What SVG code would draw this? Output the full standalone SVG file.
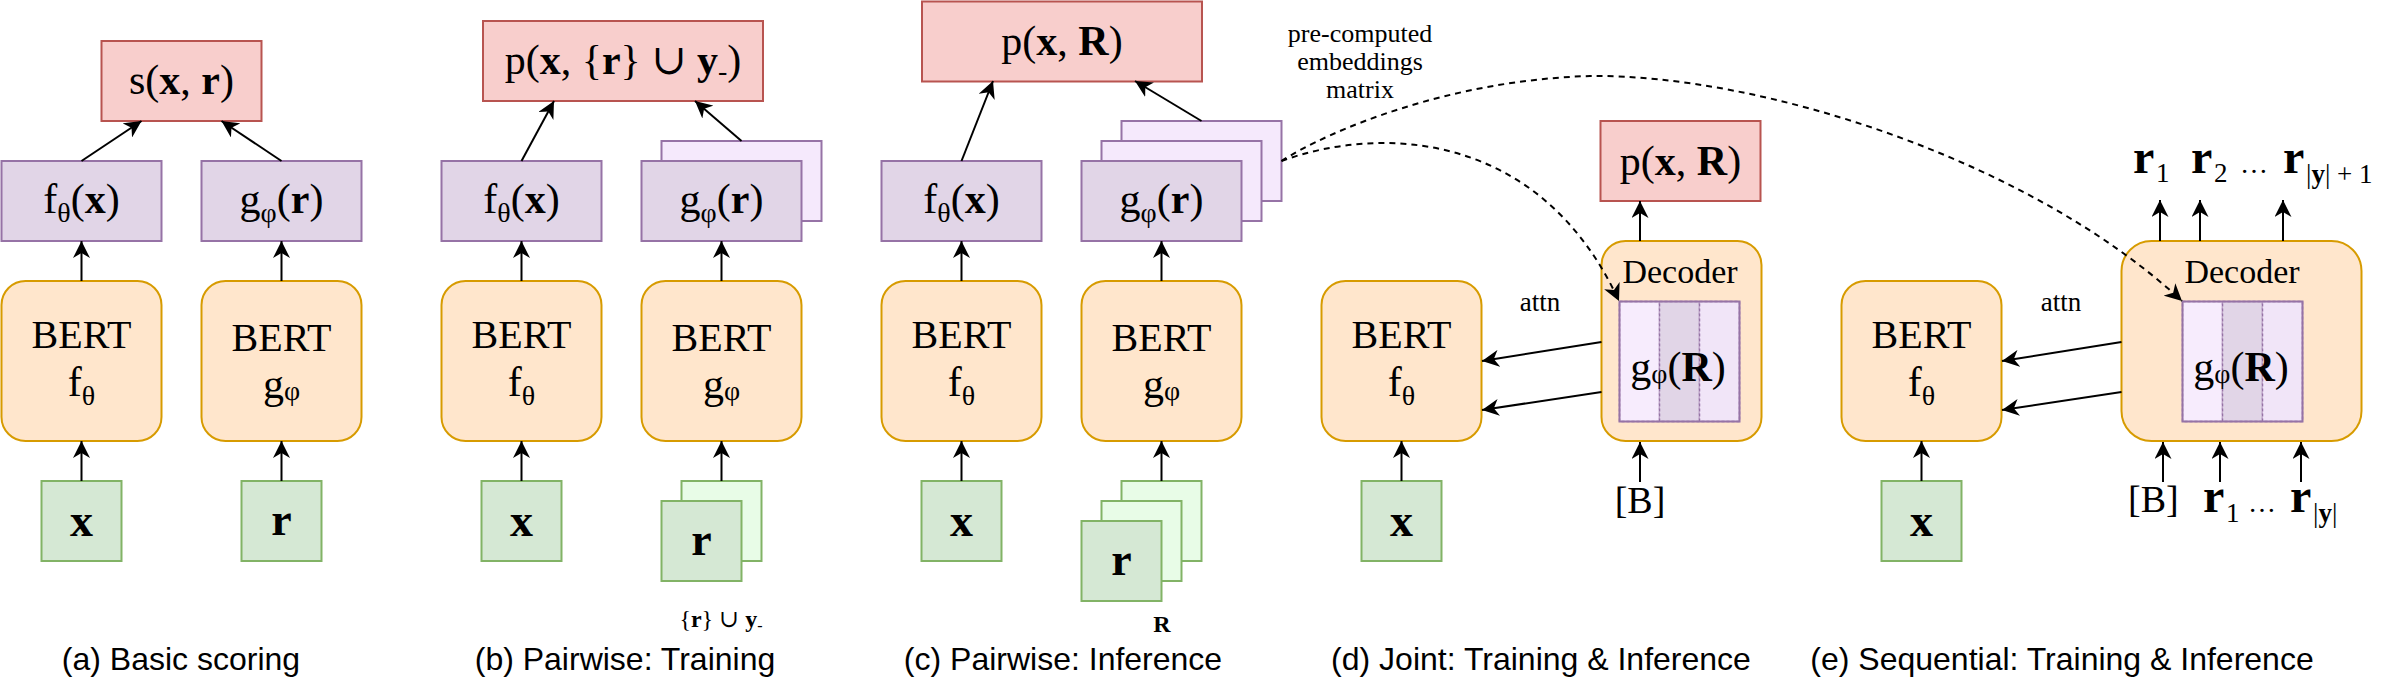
<svg xmlns="http://www.w3.org/2000/svg" width="2404" height="682" viewBox="0 0 2404 682">
<defs>
<style>
.red{fill:#f8cecc;stroke:#b85450;stroke-width:2}
.pur{fill:#e1d5e7;stroke:#9673a6;stroke-width:2}
.purl{fill:#f5e9fc;stroke:#9673a6;stroke-width:2}
.org{fill:#ffe6cc;stroke:#d79b00;stroke-width:2}
.grn{fill:#d5e8d4;stroke:#82b366;stroke-width:2}
.grnl{fill:#e8fce7;stroke:#82b366;stroke-width:2}
.col{stroke:#9673a6;stroke-width:1.5;stroke-dasharray:3 2}
text{font-family:"Liberation Serif","DejaVu Serif",serif;fill:#000}
.m{font-size:42px;text-anchor:middle}
.bt{font-size:40px;text-anchor:middle}
.dec{font-size:34px;text-anchor:middle}
.in{font-size:46px;font-weight:bold;text-anchor:middle}
.b{font-weight:bold}
.sub{font-size:28px}
.lbl{font-size:26px;text-anchor:middle}
.rv{font-size:48px;font-weight:bold}
.rs{font-size:27px}
.dots{font-size:28px}
.cap{font-family:"Liberation Sans",Arial,sans-serif;font-size:32px;text-anchor:middle}
.e{stroke:#000;stroke-width:2;fill:none;marker-end:url(#arr)}
.d{stroke:#000;stroke-width:2;fill:none;stroke-dasharray:6 5;marker-end:url(#arr)}
</style>
<marker id="arr" viewBox="0 0 17 17" refX="17" refY="8.5" markerWidth="17" markerHeight="17" markerUnits="userSpaceOnUse" orient="auto"><path d="M0,0 L17,8.5 L0,17 L5,8.5 Z" fill="#000"/></marker>
</defs>
<rect width="2404" height="682" fill="#fff"/>

<!-- Panel (a) -->
<g id="a-score"><rect class="red" x="101.5" y="41" width="160" height="80"/><text class="m" x="181.5" y="94">s(<tspan class="b">x</tspan>, <tspan class="b">r</tspan>)</text></g>
<g id="a-fx"><rect class="pur" x="1.5" y="161" width="160" height="80"/><text class="m" x="81.5" y="213">f<tspan class="sub" dy="9">θ</tspan><tspan dy="-9">(</tspan><tspan class="b">x</tspan>)</text></g>
<g id="a-gr"><rect class="pur" x="201.5" y="161" width="160" height="80"/><text class="m" x="281.5" y="213">g<tspan class="sub" dy="9">φ</tspan><tspan dy="-9">(</tspan><tspan class="b">r</tspan>)</text></g>
<g id="a-bert-f"><rect class="org" x="1.5" y="281" width="160" height="160" rx="24"/><text class="bt" x="81.5" y="348">BERT</text><text class="m" x="81.5" y="396">f<tspan class="sub" dy="9">θ</tspan></text></g>
<g id="a-bert-g"><rect class="org" x="201.5" y="281" width="160" height="160" rx="24"/><text class="bt" x="281.5" y="351">BERT</text><text class="m" x="281.5" y="398">g<tspan class="sub" dy="2">φ</tspan></text></g>
<g id="a-x"><rect class="grn" x="41.5" y="481" width="80" height="80"/><text class="in" x="81.5" y="536">x</text></g>
<g id="a-r"><rect class="grn" x="241.5" y="481" width="80" height="80"/><text class="in" x="281.5" y="535">r</text></g>
<text class="cap" x="181" y="670">(a) Basic scoring</text>

<!-- Panel (b) -->
<g id="b-score"><rect class="red" x="483" y="21" width="280" height="80"/><text class="m" x="623" y="74">p(<tspan class="b">x</tspan>, {<tspan class="b">r</tspan>} ∪ <tspan class="b">y</tspan><tspan class="sub" dy="6">-</tspan><tspan dy="-6">)</tspan></text></g>
<g id="b-fx"><rect class="pur" x="441.5" y="161" width="160" height="80"/><text class="m" x="521.5" y="213">f<tspan class="sub" dy="9">θ</tspan><tspan dy="-9">(</tspan><tspan class="b">x</tspan>)</text></g>
<g id="b-gr"><rect class="purl" x="661.5" y="141" width="160" height="80"/><rect class="pur" x="641.5" y="161" width="160" height="80"/><text class="m" x="721.5" y="213">g<tspan class="sub" dy="9">φ</tspan><tspan dy="-9">(</tspan><tspan class="b">r</tspan>)</text></g>
<g id="b-bert-f"><rect class="org" x="441.5" y="281" width="160" height="160" rx="24"/><text class="bt" x="521.5" y="348">BERT</text><text class="m" x="521.5" y="396">f<tspan class="sub" dy="9">θ</tspan></text></g>
<g id="b-bert-g"><rect class="org" x="641.5" y="281" width="160" height="160" rx="24"/><text class="bt" x="721.5" y="351">BERT</text><text class="m" x="721.5" y="398">g<tspan class="sub" dy="2">φ</tspan></text></g>
<g id="b-x"><rect class="grn" x="481.5" y="481" width="80" height="80"/><text class="in" x="521.5" y="536">x</text></g>
<g id="b-r"><rect class="grnl" x="681.5" y="481" width="80" height="80"/><rect class="grn" x="661.5" y="501" width="80" height="80"/><text class="in" x="701.5" y="555">r</text><text x="721" y="627" style="font-size:24px;text-anchor:middle">{<tspan class="b">r</tspan>} ∪ <tspan class="b">y</tspan><tspan style="font-size:16px" dy="4">-</tspan></text></g>
<text class="cap" x="625" y="670">(b) Pairwise: Training</text>

<!-- Panel (c) -->
<g id="c-score"><rect class="red" x="922" y="1.5" width="280" height="80"/><text class="m" x="1062" y="55">p(<tspan class="b">x</tspan>, <tspan class="b">R</tspan>)</text></g>
<g id="c-fx"><rect class="pur" x="881.5" y="161" width="160" height="80"/><text class="m" x="961.5" y="213">f<tspan class="sub" dy="9">θ</tspan><tspan dy="-9">(</tspan><tspan class="b">x</tspan>)</text></g>
<g id="c-gr"><rect class="purl" x="1121.5" y="121" width="160" height="80"/><rect class="purl" x="1101.5" y="141" width="160" height="80"/><rect class="pur" x="1081.5" y="161" width="160" height="80"/><text class="m" x="1161.5" y="213">g<tspan class="sub" dy="9">φ</tspan><tspan dy="-9">(</tspan><tspan class="b">r</tspan>)</text></g>
<g id="c-bert-f"><rect class="org" x="881.5" y="281" width="160" height="160" rx="24"/><text class="bt" x="961.5" y="348">BERT</text><text class="m" x="961.5" y="396">f<tspan class="sub" dy="9">θ</tspan></text></g>
<g id="c-bert-g"><rect class="org" x="1081.5" y="281" width="160" height="160" rx="24"/><text class="bt" x="1161.5" y="351">BERT</text><text class="m" x="1161.5" y="398">g<tspan class="sub" dy="2">φ</tspan></text></g>
<g id="c-x"><rect class="grn" x="921.5" y="481" width="80" height="80"/><text class="in" x="961.5" y="536">x</text></g>
<g id="c-R"><rect class="grnl" x="1121.5" y="481" width="80" height="80"/><rect class="grnl" x="1101.5" y="501" width="80" height="80"/><rect class="grn" x="1081.5" y="521" width="80" height="80"/><text class="in" x="1121.5" y="575">r</text><text class="b" x="1162" y="632" style="font-size:24px;text-anchor:middle">R</text></g>
<text class="cap" x="1063" y="670">(c) Pairwise: Inference</text>

<!-- Panel (d) -->
<g id="d-label"><text class="lbl" x="1360" y="42">pre-computed</text><text class="lbl" x="1360" y="70">embeddings</text><text class="lbl" x="1360" y="98">matrix</text></g>
<g id="d-score"><rect class="red" x="1600.5" y="121" width="160" height="80"/><text class="m" x="1680.5" y="175">p(<tspan class="b">x</tspan>, <tspan class="b">R</tspan>)</text></g>
<g id="d-bert"><rect class="org" x="1321.5" y="281" width="160" height="160" rx="24"/><text class="bt" x="1401.5" y="348">BERT</text><text class="m" x="1401.5" y="396">f<tspan class="sub" dy="9">θ</tspan></text></g>
<g id="d-decoder"><rect class="org" x="1601.5" y="241" width="160" height="200" rx="24"/><text class="dec" x="1680" y="283">Decoder</text>
<rect class="col" x="1619.5" y="301.5" width="40" height="120" fill="#f7ecfd"/><rect class="col" x="1659.5" y="301.5" width="40" height="120" fill="#e1d5e7"/><rect class="col" x="1699.5" y="301.5" width="40" height="120" fill="#f1e5f8"/><rect x="1619.5" y="301.5" width="120" height="120" fill="none" stroke="#9673a6" stroke-width="2"/>
<text class="m" x="1678" y="381">g<tspan class="sub" dy="2">φ</tspan><tspan dy="-2">(</tspan><tspan class="b">R</tspan>)</text></g>
<g id="d-x"><rect class="grn" x="1361.5" y="481" width="80" height="80"/><text class="in" x="1401.5" y="536">x</text></g>
<text x="1640" y="513" style="font-size:38px;text-anchor:middle">[B]</text>
<text class="lbl" x="1540" y="311" style="font-size:27px">attn</text>
<text class="cap" x="1541" y="670">(d) Joint: Training &amp; Inference</text>

<!-- Panel (e) -->
<g id="e-bert"><rect class="org" x="1841.5" y="281" width="160" height="160" rx="24"/><text class="bt" x="1921.5" y="348">BERT</text><text class="m" x="1921.5" y="396">f<tspan class="sub" dy="9">θ</tspan></text></g>
<g id="e-decoder"><rect class="org" x="2121.5" y="241" width="240" height="200" rx="30"/><text class="dec" x="2242" y="283">Decoder</text>
<rect class="col" x="2182.5" y="301.5" width="40" height="120" fill="#f7ecfd"/><rect class="col" x="2222.5" y="301.5" width="40" height="120" fill="#e1d5e7"/><rect class="col" x="2262.5" y="301.5" width="40" height="120" fill="#f1e5f8"/><rect x="2182.5" y="301.5" width="120" height="120" fill="none" stroke="#9673a6" stroke-width="2"/>
<text class="m" x="2241" y="381">g<tspan class="sub" dy="2">φ</tspan><tspan dy="-2">(</tspan><tspan class="b">R</tspan>)</text></g>
<g id="e-x"><rect class="grn" x="1881.5" y="481" width="80" height="80"/><text class="in" x="1921.5" y="536">x</text></g>
<g id="e-outputs"><text class="rv" x="2133" y="173">r</text><text class="rs" x="2156" y="182">1</text><text class="rv" x="2191" y="173">r</text><text class="rs" x="2214" y="182">2</text><text class="dots" x="2240" y="173">…</text><text class="rv" x="2283" y="173">r</text><text class="rs" x="2306" y="183">|<tspan class="b">y</tspan>| + 1</text></g>
<g id="e-inputs"><text x="2128" y="512" style="font-size:38px">[B]</text><text class="rv" x="2203" y="512">r</text><text class="rs" x="2226" y="522">1</text><text class="dots" x="2248" y="512">…</text><text class="rv" x="2290" y="512">r</text><text class="rs" x="2313" y="522">|<tspan class="b">y</tspan>|</text></g>
<text class="lbl" x="2061" y="311" style="font-size:27px">attn</text>
<text class="cap" x="2062" y="670">(e) Sequential: Training &amp; Inference</text>

<!-- Connectors -->
<g id="connectors">
<path class="e" d="M81.5,161 L141.5,121"/>
<path class="e" d="M281.5,161 L221.5,121"/>
<path class="e" d="M81.5,281 L81.5,241"/>
<path class="e" d="M281.5,281 L281.5,241"/>
<path class="e" d="M81.5,481 L81.5,441"/>
<path class="e" d="M281.5,481 L281.5,441"/>

<path class="e" d="M521.5,161 L554,101"/>
<path class="e" d="M741.5,141 L695,101"/>
<path class="e" d="M521.5,281 L521.5,241"/>
<path class="e" d="M721.5,281 L721.5,241"/>
<path class="e" d="M521.5,481 L521.5,441"/>
<path class="e" d="M721.5,481 L721.5,441"/>

<path class="e" d="M961.5,161 L993,81"/>
<path class="e" d="M1201.5,121 L1135,81"/>
<path class="e" d="M961.5,281 L961.5,241"/>
<path class="e" d="M1161.5,281 L1161.5,241"/>
<path class="e" d="M961.5,481 L961.5,441"/>
<path class="e" d="M1161.5,481 L1161.5,441"/>

<path class="d" d="M1281.5,161 C1380,125 1540,130 1619,301"/>
<path class="d" d="M1281.5,161 C1330,130 1450,80 1590,76 C1760,74 2030,160 2182,301"/>

<path class="e" d="M1640,241 L1640,201"/>
<path class="e" d="M1640,482 L1640,442"/>
<path class="e" d="M1601.5,342 L1482,361"/>
<path class="e" d="M1601.5,392 L1482,410"/>
<path class="e" d="M1401.5,481 L1401.5,441"/>

<path class="e" d="M1921.5,481 L1921.5,441"/>
<path class="e" d="M2121.5,342 L2002,361"/>
<path class="e" d="M2121.5,392 L2002,410"/>
<path class="e" d="M2160,241 L2160,200"/>
<path class="e" d="M2200,241 L2200,200"/>
<path class="e" d="M2283,241 L2283,200"/>
<path class="e" d="M2163,482 L2163,442"/>
<path class="e" d="M2220,482 L2220,442"/>
<path class="e" d="M2301,482 L2301,442"/>
</g>
</svg>
